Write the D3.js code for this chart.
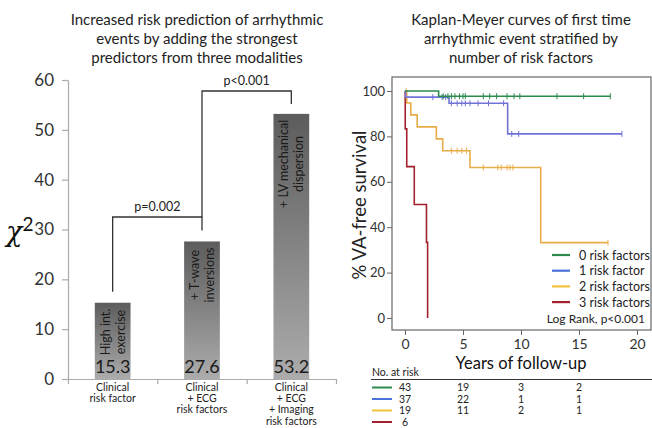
<!DOCTYPE html>
<html><head><meta charset="utf-8">
<script src="https://cdn.jsdelivr.net/npm/d3@7"></script>
<style>
html,body{margin:0;padding:0;background:#fff;}
svg{display:block;}
text{font-family:Lato,"Open Sans",sans-serif;}
</style></head>
<body>
<svg id="chart" width="652" height="428"></svg>
<script>
// ---------- Left panel data ----------
const barCategories = [["Clinical","risk factor"],["Clinical","+ ECG","risk factors"],["Clinical","+ ECG","+ Imaging","risk factors"]];
const barValues = [15.3, 27.6, 53.2];
const barInnerLabels = [["High int.","exercise"],["+ T-wave","inversions"],["+ LV mechanical","dispersion"]];
const leftYTicks = [0,10,20,30,40,50,60];
const pLabels = ["p=0.002","p<0.001"];
const leftTitle = ["Increased risk prediction of arrhythmic","events by adding the strongest","predictors from three modalities"];

// ---------- Right panel data ----------
const rightTitle = ["Kaplan-Meyer curves of first time","arrhythmic event stratified by","number of risk factors"];
const seriesNames = ["0 risk factors","1 risk factor","2 risk factors","3 risk factors"];
const greenTimes = [0, 2.9, 17.7];
const greenSurv  = [100, 97.7, 97.7];
const greenCensor = [3.3,3.7,4.0,4.3,4.7,5.0,5.2,6.75,7.3,7.9,8.8,9.4,9.9,13.1,15.4,17.7];
const blueTimes = [0, 0.05, 3.8, 8.85, 18.7];
const blueSurv  = [100, 97.3, 94.6, 81.1, 81.1];
const blueCensor = [2.4,3.2,3.5,4.0,4.5,4.9,5.2,5.6,6.3,7.2,8.5,9.2,9.8,18.7];
const yellowTimes = [0, 0.15, 0.5, 1.05, 2.7, 3.25, 5.6, 11.7, 17.5];
const yellowSurv  = [100, 94.7, 89.5, 84.2, 78.9, 73.7, 66.3, 33.2, 33.2];
const yellowCensor = [0.1,4.0,4.5,4.9,5.3,6.75,8.0,8.3,8.8,9.05,9.3,17.5];
const redTimes = [0, 0.02, 0.15, 0.8, 1.85, 1.95];
const redSurv  = [100, 83.3, 66.7, 50, 33.3, 0];
const redCensor = [];
const rightXTicks = [0,5,10,15,20];
const rightYTicks = [0,20,40,60,80,100];
const atRiskTimes = [0,5,10,15];
const atRisk = [[43,19,3,2],[37,22,1,1],[19,11,2,1],[6]];
const logRankText = "Log Rank, p<0.001";

const curveColors = ["#2d8a4e","#6f73d8","#e8ad48","#a3202e"];
const legendColors = ["#2d8a4e","#4a72d8","#efc43c","#a3202e"];

const svg = d3.select("#chart");

// ================= LEFT PANEL =================
const yL = d3.scaleLinear().domain([0,60]).range([379,80]);
const xL = d3.scaleBand().domain(d3.range(barValues.length)).range([68,336]).paddingInner(0.6).paddingOuter(0.3);
const xLEdge = d3.scaleLinear().domain([0,3]).range([68,336]);

svg.append("g").selectAll("text").data(leftTitle).join("text")
  .attr("x",197).attr("y",(d,i)=>25+i*19).attr("text-anchor","middle")
  .attr("font-size",15).attr("fill","#222").text(d=>d);

const defs = svg.append("defs");
const grad = defs.append("linearGradient").attr("id","barGrad").attr("x1",0).attr("y1",0).attr("x2",0).attr("y2",1);
grad.append("stop").attr("offset","0%").attr("stop-color","#5c5c5c");
grad.append("stop").attr("offset","100%").attr("stop-color","#acacac");

// y axis
const gyL = svg.append("g").attr("transform","translate(68,0)")
  .call(d3.axisLeft(yL).tickValues(leftYTicks).tickSize(6).tickSizeOuter(0).tickPadding(8));
gyL.select(".domain").attr("stroke","#aaa").attr("stroke-width",1.2);
gyL.selectAll(".tick line").attr("stroke","#aaa").attr("stroke-width",1.2);
gyL.selectAll(".tick text").attr("font-size",17).attr("fill","#333").attr("font-family","Lato, sans-serif");

// x axis
const gxL = svg.append("g").attr("transform","translate(0,379)")
  .call(d3.axisBottom(xLEdge).tickValues([0,1,2,3]).tickFormat("").tickSize(5).tickSizeOuter(0));
gxL.select(".domain").attr("stroke","#aaa").attr("stroke-width",1.2);
gxL.selectAll(".tick line").attr("stroke","#aaa").attr("stroke-width",1.2);

// bars
svg.append("g").selectAll("rect").data(barValues).join("rect")
  .attr("x",(d,i)=>xL(i)).attr("width",xL.bandwidth())
  .attr("y",d=>yL(d)).attr("height",d=>yL(0)-yL(d))
  .attr("fill","url(#barGrad)");

// value labels
svg.append("g").selectAll("text").data(barValues).join("text")
  .attr("x",(d,i)=>xL(i)+xL.bandwidth()/2).attr("y",373)
  .attr("text-anchor","middle").attr("font-size",18).attr("fill","#1a1a1a")
  .text(d=>d.toFixed(1));

// rotated inner labels
barInnerLabels.forEach((lines,i)=>{
  const cx = xL(i)+xL.bandwidth()/2;
  const g = svg.append("g");
  const texts = lines.map((ln,j)=> g.append("text")
      .attr("font-size",12.5).attr("fill","#1a1a1a").attr("text-anchor","middle").text(ln));
  const maxLen = d3.max(texts, t=>t.node().getComputedTextLength());
  const cy = yL(barValues[i]) + 6 + maxLen/2;
  texts.forEach((t,j)=>{
    const lx = cx + 4.5 + (j - (lines.length-1)/2)*15;
    t.attr("transform",`translate(${lx},${cy}) rotate(-90)`);
  });
});

// category labels
barCategories.forEach((lines,i)=>{
  const cx = xL(i)+xL.bandwidth()/2;
  svg.append("g").selectAll("text").data(lines).join("text")
    .attr("x",cx).attr("y",(d,j)=>391+j*11.2).attr("text-anchor","middle")
    .attr("font-size",10.5).attr("fill","#222").text(d=>d);
});

// chi-square label
const chi = svg.append("text").attr("x",6).attr("y",241).attr("fill","#111");
chi.append("tspan").attr("font-family","'DejaVu Serif', serif").attr("font-style","italic").attr("font-size",27).text("χ");
chi.append("tspan").attr("font-family","Lato, sans-serif").attr("font-size",19).attr("dy",-10).text("2");

// significance brackets
const bx = i => xL(i)+xL.bandwidth()/2;
const bracket = d3.line();
const br1 = [[bx(0), yL(barValues[0])-11],[bx(0), 217],[bx(1), 217],[bx(1), yL(barValues[1])-11]];
const br2 = [[bx(1), 217],[bx(1), 91],[bx(2), 91],[bx(2), yL(barValues[2])-10]];
svg.append("path").attr("d",bracket(br1)).attr("fill","none").attr("stroke","#333").attr("stroke-width",1.3);
svg.append("path").attr("d",bracket(br2)).attr("fill","none").attr("stroke","#333").attr("stroke-width",1.3);
svg.append("text").attr("x",(bx(0)+bx(1))/2).attr("y",211).attr("text-anchor","middle").attr("font-size",12.5).attr("fill","#222").text(pLabels[0]);
svg.append("text").attr("x",(bx(1)+bx(2))/2).attr("y",85).attr("text-anchor","middle").attr("font-size",12.5).attr("fill","#222").text(pLabels[1]);

// ================= RIGHT PANEL =================
svg.append("g").selectAll("text").data(rightTitle).join("text")
  .attr("x",521).attr("y",(d,i)=>25+i*19).attr("text-anchor","middle")
  .attr("font-size",15).attr("fill","#222").text(d=>d);

const xR = d3.scaleLinear().domain([0,20]).range([405,637]);
const yR = d3.scaleLinear().domain([0,100]).range([318,91]);

svg.append("rect").attr("x",392).attr("y",77).attr("width",259).attr("height",253)
  .attr("fill","none").attr("stroke","#666").attr("stroke-width",1.2);

const gyR = svg.append("g").attr("transform","translate(392,0)")
  .call(d3.axisLeft(yR).tickValues(rightYTicks).tickSize(5).tickPadding(2));
gyR.select(".domain").remove();
gyR.selectAll(".tick line").attr("stroke","#666");
gyR.selectAll(".tick text").attr("font-size",13).attr("fill","#333").attr("font-family","'Liberation Sans', Arial, sans-serif");

const gxR = svg.append("g").attr("transform","translate(0,330)")
  .call(d3.axisBottom(xR).tickValues(rightXTicks).tickSize(5).tickPadding(4));
gxR.select(".domain").remove();
gxR.selectAll(".tick line").attr("stroke","#666");
gxR.selectAll(".tick text").attr("font-size",14).attr("fill","#333").attr("font-family","'Liberation Sans', Arial, sans-serif");

svg.append("text").attr("transform","translate(366,205) rotate(-90)").attr("text-anchor","middle")
  .attr("font-family","'Liberation Sans', Arial, sans-serif").attr("font-size",18.5).attr("fill","#222").text("% VA-free survival");
svg.append("text").attr("x",521).attr("y",369).attr("text-anchor","middle")
  .attr("font-size",16.5).attr("fill","#111").text("Years of follow-up");

const series = [
  {t:greenTimes, s:greenSurv, c:greenCensor},
  {t:blueTimes, s:blueSurv, c:blueCensor},
  {t:yellowTimes, s:yellowSurv, c:yellowCensor},
  {t:redTimes, s:redSurv, c:redCensor}
];
const km = d3.line().x(d=>xR(d[0])).y(d=>yR(d[1])).curve(d3.curveStepAfter);
function survAt(ser, t){
  let v = ser.s[0];
  for(let k=0;k<ser.t.length;k++){ if(ser.t[k]<=t) v = ser.s[k]; }
  return v;
}
const drawOrder = [3,2,1,0];
drawOrder.forEach(i=>{
  const ser = series[i];
  const pts = ser.t.map((t,k)=>[t, ser.s[k]]);
  svg.append("path").attr("d",km(pts)).attr("fill","none")
    .attr("stroke",curveColors[i]).attr("stroke-width",1.6);
  svg.append("g").selectAll("line").data(ser.c).join("line")
    .attr("x1",d=>xR(d)).attr("x2",d=>xR(d))
    .attr("y1",d=>yR(survAt(ser,d))-3).attr("y2",d=>yR(survAt(ser,d))+3)
    .attr("stroke",curveColors[i]).attr("stroke-width",1);
});

// legend
seriesNames.forEach((name,i)=>{
  const y = 255 + i*15.7;
  svg.append("line").attr("x1",552).attr("x2",570).attr("y1",y).attr("y2",y)
    .attr("stroke",legendColors[i]).attr("stroke-width",2.2);
  svg.append("text").attr("x",579).attr("y",y+4.5).attr("font-size",12.5).attr("fill","#222").text(name);
});
svg.append("text").attr("x",645).attr("y",323).attr("text-anchor","end").attr("font-size",12).attr("fill","#222").text(logRankText);

// at-risk table
svg.append("text").attr("x",372).attr("y",376).attr("font-size",10.5).attr("fill","#222").text("No. at risk");
svg.append("line").attr("x1",371).attr("x2",652).attr("y1",379.5).attr("y2",379.5).attr("stroke","#333").attr("stroke-width",1.2);
atRisk.forEach((row,i)=>{
  const y = 387.5 + i*11.5;
  svg.append("line").attr("x1",372).attr("x2",392).attr("y1",y).attr("y2",y)
    .attr("stroke",legendColors[i]).attr("stroke-width",2);
  svg.append("g").selectAll("text").data(row).join("text")
    .attr("x",(d,k)=>xR(atRiskTimes[k])).attr("y",y+3.8).attr("text-anchor","middle")
    .attr("font-size",10.5).attr("fill","#222").text(d=>d);
});
</script>
</body></html>
